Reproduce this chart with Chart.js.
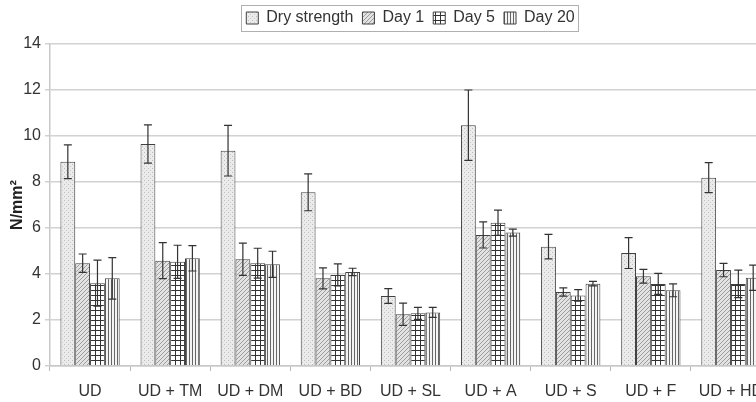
<!DOCTYPE html>
<html>
<head>
<meta charset="utf-8">
<script src="https://cdn.jsdelivr.net/npm/chart.js@4/dist/chart.umd.min.js"></script>
<style>
  body { margin:0; background:#fff; }
  .wrap { width:756px; height:402px; overflow:hidden; position:relative; }
  canvas { position:absolute; left:0; top:0; }
</style>
</head>
<body>
<div class="wrap"><canvas id="c" width="820" height="402"></canvas></div>
<script>
const categories = ['UD','UD + TM','UD + DM','UD + BD','UD + SL','UD + A','UD + S','UD + F','UD + HD'];
const seriesNames = ['Dry strength','Day 1','Day 5','Day 20'];
const dryStrength = [8.88, 9.65, 9.36, 7.55, 3.04, 10.47, 5.19, 4.91, 8.19];
const dryErr      = [0.73, 0.83, 1.10, 0.80, 0.32, 1.53, 0.53, 0.67, 0.65];
const day1        = [4.47, 4.58, 4.64, 3.81, 2.25, 5.70, 3.22, 3.90, 4.17];
const day1Err     = [0.40, 0.78, 0.70, 0.46, 0.48, 0.57, 0.18, 0.30, 0.29];
const day5        = [3.60, 4.53, 4.47, 3.96, 2.29, 6.23, 3.07, 3.57, 3.57];
const day5Err     = [1.00, 0.72, 0.65, 0.48, 0.26, 0.55, 0.25, 0.46, 0.60];
const day20       = [3.81, 4.68, 4.42, 4.09, 2.33, 5.80, 3.58, 3.29, 3.84];
const day20Err    = [0.90, 0.55, 0.57, 0.16, 0.22, 0.15, 0.10, 0.28, 0.55];
const yTicks = [0, 2, 4, 6, 8, 10, 12, 14];

function pattern(w, h, draw){
  const cv = document.createElement('canvas');
  cv.width = w; cv.height = h;
  const g = cv.getContext('2d');
  draw(g);
  return g.createPattern(cv, 'repeat');
}
const fills = [
  pattern(4, 4, g => { g.fillStyle='#ebebeb'; g.fillRect(0,0,4,4); g.fillStyle='#bcbcbc'; g.fillRect(0,0,1,1); g.fillStyle='#cacaca'; g.fillRect(2,2,1,1); }),
  pattern(4, 4, g => { g.fillStyle='#e3e3e3'; g.fillRect(0,0,4,4); g.fillStyle='#9c9c9c'; for(let i=0;i<4;i++) g.fillRect(i,3-i,1,1); }),
  pattern(5, 5, g => { g.fillStyle='#fff'; g.fillRect(0,0,5,5); g.fillStyle='#333'; g.fillRect(0,0,5,1); g.fillRect(0,0,1,5); }),
  pattern(3, 3, g => { g.fillStyle='#f4f4f4'; g.fillRect(0,0,3,3); g.fillStyle='#666'; g.fillRect(0,0,1,3); })
];
const values = [dryStrength, day1, day5, day20];
const errors = [dryErr, day1Err, day5Err, day20Err];

const errorBars = {
  id: 'errorBars',
  afterDatasetsDraw(chart){
    const ctx = chart.ctx, y = chart.scales.y;
    ctx.save();
    ctx.strokeStyle = '#333';
    ctx.lineWidth = 1.2;
    chart.data.datasets.forEach((ds, i) => {
      chart.getDatasetMeta(i).data.forEach((bar, j) => {
        const v = ds.data[j], e = ds.err[j];
        const top = y.getPixelForValue(v + e), bot = y.getPixelForValue(v - e);
        ctx.beginPath();
        ctx.moveTo(bar.x, top); ctx.lineTo(bar.x, bot);
        ctx.moveTo(bar.x - 4, top); ctx.lineTo(bar.x + 4, top);
        ctx.moveTo(bar.x - 4, bot); ctx.lineTo(bar.x + 4, bot);
        ctx.stroke();
      });
    });
    ctx.restore();
  }
};

const legendFrame = {
  id: 'legendFrame',
  afterDraw(chart){
    const boxes = chart.legend && chart.legend.legendHitBoxes;
    if(!boxes || !boxes.length) return;
    const l = Math.min(...boxes.map(b=>b.left)) - 5;
    const r = Math.max(...boxes.map(b=>b.left + b.width)) + 4;
    const t = Math.min(...boxes.map(b=>b.top)) - 5;
    const btm = Math.max(...boxes.map(b=>b.top + b.height)) + 5;
    const ctx = chart.ctx;
    ctx.save();
    ctx.strokeStyle = '#b0b0b0';
    ctx.lineWidth = 1;
    ctx.strokeRect(Math.round(l)+0.5, Math.round(t)+0.5, Math.round(r-l), Math.round(btm-t));
    ctx.restore();
  }
};

new Chart(document.getElementById('c'), {
  type: 'bar',
  data: {
    labels: categories,
    datasets: seriesNames.map((name, i) => ({
      label: name,
      data: values[i],
      err: errors[i],
      backgroundColor: fills[i],
      borderColor: '#404040',
      borderWidth: 1,
      categoryPercentage: 0.74,
      barPercentage: 1.0
    }))
  },
  options: {
    responsive: false,
    animation: false,
    layout: { padding: { top: 1, right: 49, left: 0, bottom: 0 } },
    plugins: {
      legend: {
        position: 'top',
        fullSize: false,
        labels: {
          boxWidth: 12, boxHeight: 12, padding: 9,
          color: '#333',
          font: { family: 'Liberation Sans, Arial, sans-serif', size: 16 }
        }
      },
      title: {
        display: true, text: '', weight: 500,
        padding: 0, font: { size: 8, lineHeight: 1 }
      },
      tooltip: { enabled: false }
    },
    scales: {
      x: {
        grid: { display: true, drawOnChartArea: false, tickLength: 5, color: '#b8b8b8', offset: true },
        border: { display: true, color: '#c8c8c8', width: 1.5 },
        ticks: { color: '#333', padding: 11, maxRotation: 0, autoSkip: false,
                 font: { family: 'Liberation Sans, Arial, sans-serif', size: 16 } },
        afterFit(s){ s.height = 36; }
      },
      y: {
        min: 0, max: 14,
        afterBuildTicks(s){ s.ticks = yTicks.map(v => ({ value: v })); },
        grid: { color: '#d2d2d2', lineWidth: 1.5, tickLength: 5 },
        border: { display: true, color: '#c8c8c8', width: 1.5 },
        ticks: { color: '#333', padding: 4,
                 font: { family: 'Liberation Sans, Arial, sans-serif', size: 16 } },
        title: { display: true, text: 'N/mm²', color: '#222', padding: { top: 8, bottom: 0 },
                 font: { family: 'Liberation Sans, Arial, sans-serif', size: 16, weight: 'bold' } },
        afterFit(s){ s.width = 50; }
      }
    }
  },
  plugins: [errorBars, legendFrame]
});
</script>
</body>
</html>
